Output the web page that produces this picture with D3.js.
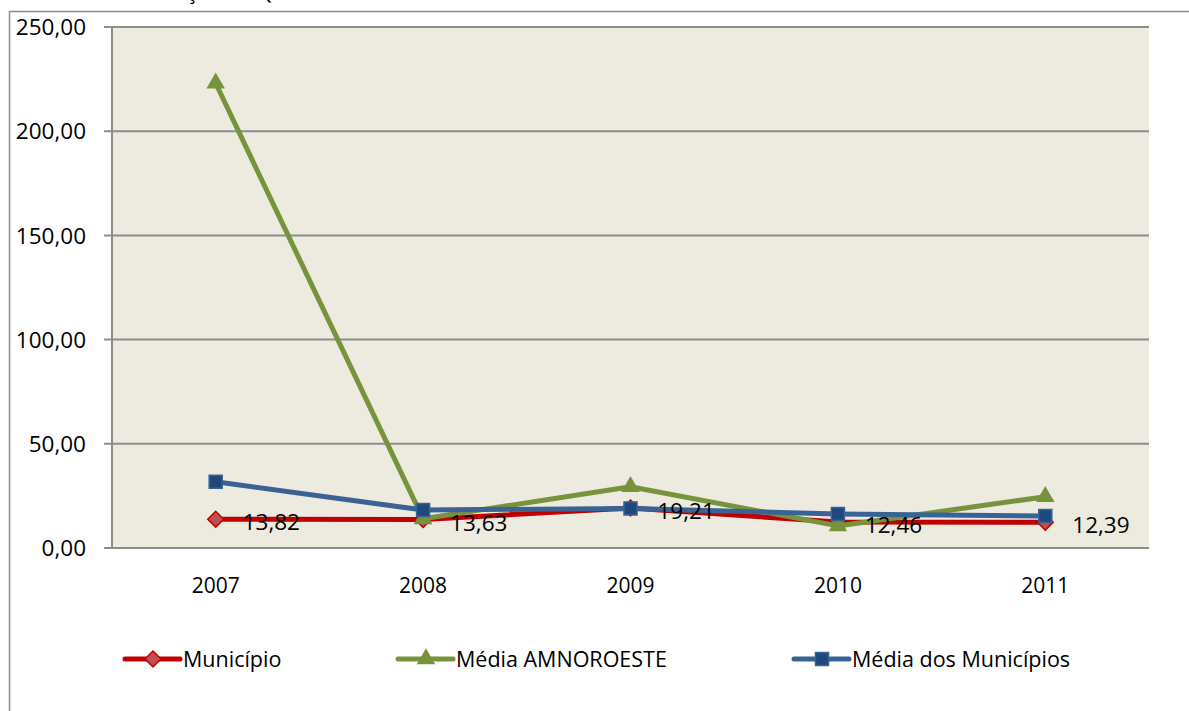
<!DOCTYPE html>
<html>
<head>
<meta charset="utf-8">
<script src="https://cdn.jsdelivr.net/npm/d3@7"></script>
<style>
	body { margin: 0; background: #fff; overflow: hidden; }
	text { font-family: 'Open Sans', sans-serif; }
</style>
</head>
<body>
<div id="vis"></div>
<script>
var years = ['2007', '2008', '2009', '2010', '2011'];
var yTicks = [0, 50, 100, 150, 200, 250];
var municipio = [13.82, 13.63, 19.21, 12.46, 12.39];
var amnoroeste = [223, 14, 29.4, 10.6, 24.6];
var mediaMunicipios = [31.8, 18.2, 19.0, 16.3, 15.4];
var seriesNames = ['Município', 'Média AMNOROESTE', 'Média dos Municípios'];
var titleText = 'Gráfico 14 – Evolução do Quociente do Resultado Patrimonial 2007 a 2011';

var width = 1189,
	height = 711;

var margin = { left: 112, top: 27, right: 40, bottom: 163 };
var drawWidth = width - margin.left - margin.right,
	drawHeight = height - margin.top - margin.bottom;

var fmt = function(v) { return d3.format('.2f')(v).replace('.', ','); };

var svg = d3.select('#vis').append('svg')
	.attr('width', width)
	.attr('height', height);

// title, cut off by the top edge as in the source
svg.append('text')
	.attr('x', 12)
	.attr('y', -1)
	.attr('font-size', 21)
	.text(titleText);

// outer chart frame
svg.append('rect')
	.attr('x', 9.5)
	.attr('y', 11.5)
	.attr('width', 1300)
	.attr('height', 800)
	.attr('fill', 'none')
	.attr('stroke', '#8c8c8c')
	.attr('stroke-width', 1.5);

var g = svg.append('g')
	.attr('transform', 'translate(' + margin.left + ',' + margin.top + ')');

var x = d3.scaleBand().domain(years).range([0, drawWidth]);
var y = d3.scaleLinear().domain([0, 250]).range([drawHeight, 0]);

g.append('rect')
	.attr('width', drawWidth)
	.attr('height', drawHeight)
	.attr('fill', '#edeae0');

// gridlines + y ticks
g.append('g').selectAll('line')
	.data(yTicks)
	.enter().append('line')
	.attr('x1', -8)
	.attr('x2', drawWidth)
	.attr('y1', function(d) { return y(d); })
	.attr('y2', function(d) { return y(d); })
	.attr('stroke', '#8c8c8c')
	.attr('stroke-width', 2);

g.append('line')
	.attr('x1', 0).attr('x2', 0)
	.attr('y1', 0).attr('y2', drawHeight)
	.attr('stroke', '#8c8c8c')
	.attr('stroke-width', 2);

g.append('g').selectAll('text')
	.data(yTicks)
	.enter().append('text')
	.attr('x', -26)
	.attr('y', function(d) { return y(d); })
	.attr('dy', '0.36em')
	.attr('text-anchor', 'end')
	.attr('font-size', 22.5)
	.text(fmt);

g.append('g').selectAll('text')
	.data(years)
	.enter().append('text')
	.attr('x', function(d) { return x(d) + x.bandwidth() / 2; })
	.attr('y', drawHeight + 37)
	.attr('dy', '0.36em')
	.attr('text-anchor', 'middle')
	.attr('font-size', 21)
	.text(function(d) { return d; });

var series = [
	{ name: seriesNames[0], values: municipio, line: '#c00000', fill: '#c0504d', stroke: '#c00000', shape: 'diamond' },
	{ name: seriesNames[1], values: amnoroeste, line: '#77933c', fill: '#77933c', stroke: '#77933c', shape: 'triangle' },
	{ name: seriesNames[2], values: mediaMunicipios, line: '#3a6395', fill: '#1f497d', stroke: '#3a6395', shape: 'square' }
];

var symbolFor = function(shape) {
	if (shape === 'diamond') return d3.symbol().type(d3.symbolDiamond2).size(160)();
	if (shape === 'triangle') return d3.symbol().type(d3.symbolTriangle).size(110)();
	return d3.symbol().type(d3.symbolSquare).size(170)();
};

var line = d3.line()
	.x(function(d, i) { return x(years[i]) + x.bandwidth() / 2; })
	.y(function(d) { return y(d); });

series.forEach(function(s) {
	g.append('path')
		.datum(s.values)
		.attr('d', line)
		.attr('fill', 'none')
		.attr('stroke', s.line)
		.attr('stroke-width', 5)
		.attr('stroke-linejoin', 'round');

	g.append('g').selectAll('path')
		.data(s.values)
		.enter().append('path')
		.attr('transform', function(d, i) {
			return 'translate(' + (x(years[i]) + x.bandwidth() / 2) + ',' + y(d) + ')';
		})
		.attr('d', symbolFor(s.shape))
		.attr('fill', s.fill)
		.attr('stroke', s.stroke)
		.attr('stroke-width', 1.5);
});

// data labels for Município
g.append('g').selectAll('text')
	.data(municipio)
	.enter().append('text')
	.attr('x', function(d, i) { return x(years[i]) + x.bandwidth() / 2 + 27; })
	.attr('y', function(d) { return y(d) + 3; })
	.attr('dy', '0.36em')
	.attr('font-size', 22.5)
	.text(fmt);

// legend
var legendX = [125, 398, 794];
var legend = svg.append('g').selectAll('g')
	.data(series)
	.enter().append('g')
	.attr('transform', function(d, i) { return 'translate(' + legendX[i] + ',659)'; });

legend.append('line')
	.attr('x1', 0).attr('x2', 55)
	.attr('stroke', function(d) { return d.line; })
	.attr('stroke-width', 5)
	.attr('stroke-linecap', 'round');

legend.append('path')
	.attr('transform', 'translate(28,0)')
	.attr('d', function(d) { return symbolFor(d.shape); })
	.attr('fill', function(d) { return d.fill; })
	.attr('stroke', function(d) { return d.stroke; })
	.attr('stroke-width', 1.5);

legend.append('text')
	.attr('x', 58)
	.attr('dy', '0.36em')
	.attr('font-size', 21.5)
	.text(function(d) { return d.name; });
</script>
</body>
</html>
